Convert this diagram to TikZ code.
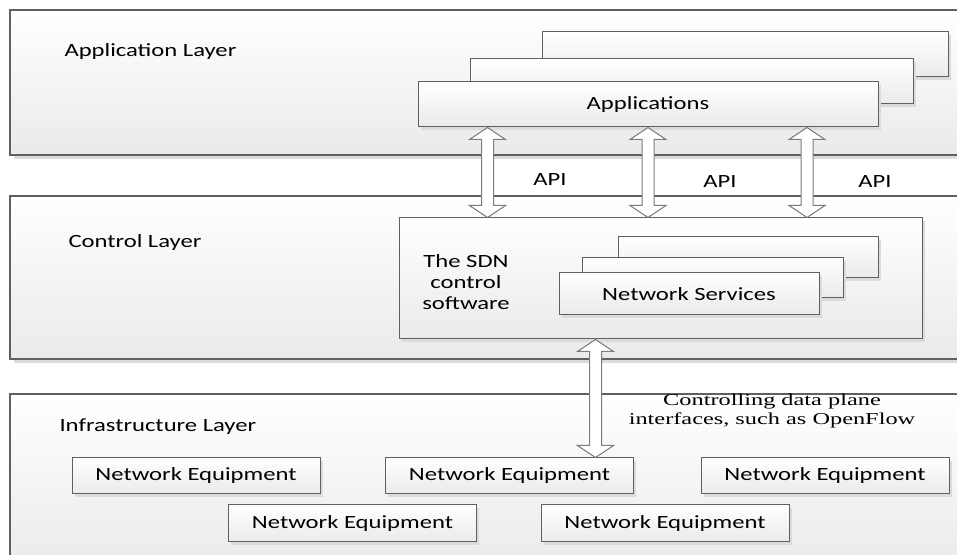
\documentclass[tikz,border=0pt]{standalone}
\usepackage{fontspec}
\setmainfont{Carlito}[FakeStretch=1.32]
\newfontfamily\capfont{Liberation Serif}[FakeStretch=1.46]
\usetikzlibrary{calc,shadows}

\definecolor{edgegray}{RGB}{96,96,96}
\definecolor{arrowgray}{RGB}{125,125,125}
\definecolor{fadegray}{RGB}{234,234,234}

\tikzset{every picture/.style={line width=0.75pt}}
\tikzset{
  layer/.style={draw=edgegray, line width=0.9pt, top color=white, bottom color=fadegray, inner sep=0pt,
    drop shadow={shadow xshift=3pt, shadow yshift=-3pt, fill=black!14, opacity=1}},
  box/.style={draw=edgegray, top color=white, bottom color=fadegray, inner sep=0pt,
    font=\fontsize{14}{16}\selectfont,
    drop shadow={shadow xshift=2pt, shadow yshift=-2pt, fill=black!14, opacity=1}},
  nebox/.style={box, minimum width=186pt, minimum height=27pt},
  fatarrow/.style={draw=arrowgray, fill=white, line width=0.75pt},
  label/.style={inner sep=0.75pt, font=\fontsize{14}{16}\selectfont}
}

\begin{document}
\begin{tikzpicture}[x=0.75pt,y=0.75pt,yscale=-1,xscale=1]
\useasboundingbox (0,0) rectangle (957,555);
\clip (0,0) rectangle (957,555);

%Shape: Rectangle
\draw (487.5,82.5) node [layer, minimum width=716.25pt, minimum height=108.75pt] (applayer) {};
%Shape: Rectangle
\draw (487.5,277.5) node [layer, minimum width=716.25pt, minimum height=122.25pt] (ctllayer) {};
%Shape: Rectangle
\draw (487.5,482) node [layer, minimum width=716.25pt, minimum height=132pt] (infralayer) {};

%Shape: Rectangle
\draw (745,54.5) node [box, minimum width=304.5pt, minimum height=33.75pt] (appback) {};
%Shape: Rectangle
\draw (691.5,81.5) node [box, minimum width=332.25pt, minimum height=33.75pt] (appmid) {};
%Shape: Rectangle
\draw (648,104.5) node [box, minimum width=345pt, minimum height=33.75pt] (apps) {Applications};

%Shape: Rectangle
\draw (660.5,278.5) node [box, minimum width=392.25pt, minimum height=90.75pt] (sdn) {};
%Shape: Rectangle
\draw (748,257.5) node [box, minimum width=195pt, minimum height=30.75pt] (nsback) {};
%Shape: Rectangle
\draw (712.5,278) node [box, minimum width=195.75pt, minimum height=30pt] (nsmid) {};
%Shape: Rectangle
\draw (689,294) node [box, minimum width=195pt, minimum height=31.5pt] (services) {Network Services};

%Shape: Rectangle
\draw (196,476) node [nebox] (ne1) {Network Equipment};
%Shape: Rectangle
\draw (509.5,476) node [nebox] (ne2) {Network Equipment};
%Shape: Rectangle
\draw (825,476) node [nebox] (ne3) {Network Equipment};
%Shape: Rectangle
\draw (352.5,523.5) node [nebox, minimum height=27.75pt] (ne4) {Network Equipment};
%Shape: Rectangle
\draw (665,523.5) node [nebox, minimum height=27.75pt] (ne5) {Network Equipment};

\coordinate (api1) at (487.5,0);
\coordinate (api2) at (648,0);
\coordinate (api3) at (807,0);
\coordinate (ofl) at (595.5,0);

%Shape: Up Down Arrow
\draw [fatarrow] (api1 |- apps.south) -- ++(18,12) -- ++(-12,0) -- ($(api1 |- sdn.north)+(6,-12)$) -- ++(12,0) -- (api1 |- sdn.north) -- ++(-18,-12) -- ++(12,0) -- ($(api1 |- apps.south)+(-6,12)$) -- ++(-12,0) -- cycle ;
%Shape: Up Down Arrow
\draw [fatarrow] (api2 |- apps.south) -- ++(18,12) -- ++(-12,0) -- ($(api2 |- sdn.north)+(6,-12)$) -- ++(12,0) -- (api2 |- sdn.north) -- ++(-18,-12) -- ++(12,0) -- ($(api2 |- apps.south)+(-6,12)$) -- ++(-12,0) -- cycle ;
%Shape: Up Down Arrow
\draw [fatarrow] (api3 |- apps.south) -- ++(18,12) -- ++(-12,0) -- ($(api3 |- sdn.north)+(6,-12)$) -- ++(12,0) -- (api3 |- sdn.north) -- ++(-18,-12) -- ++(12,0) -- ($(api3 |- apps.south)+(-6,12)$) -- ++(-12,0) -- cycle ;
%Shape: Up Down Arrow
\draw [fatarrow] (ofl |- sdn.south) -- ++(18,12) -- ++(-12,0) -- ($(ofl |- ne2.north)+(6,-12)$) -- ++(12,0) -- (ofl |- ne2.north) -- ++(-18,-12) -- ++(12,0) -- ($(ofl |- sdn.south)+(-6,12)$) -- ++(-12,0) -- cycle ;

% Text Node
\draw (63,57) node [label, anchor=base west] (apptitle) {Application Layer};
% Text Node
\draw (67,248) node [label, anchor=base west] (ctltitle) {Control Layer};
% Text Node
\draw (58,432) node [label, anchor=base west] (infratitle) {Infrastructure Layer};
% Text Node
\draw (550,186) node [label, anchor=base] (apilbl1) {API};
% Text Node
\draw (720,188) node [label, anchor=base] (apilbl2) {API};
% Text Node
\draw (875,188) node [label, anchor=base] (apilbl3) {API};
% Text Node
\draw (466,282) node [label, align=center, font=\fontsize{14}{15.75}\selectfont] (sdnlbl) {The SDN\\control\\software};
% Text Node
\draw (772,411) node [label, align=center, font=\capfont\fontsize{12.5}{14.25}\selectfont] (oflbl) {Controlling data plane\\interfaces, such as OpenFlow};

\end{tikzpicture}
\end{document}
